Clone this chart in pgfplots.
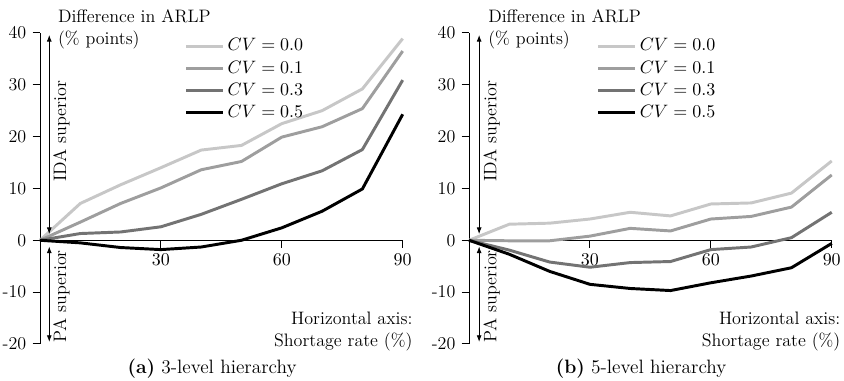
\documentclass[border=0pt]{standalone}
\usepackage{pgfplots}
\usepackage{pgfplotstable}
\pgfplotsset{compat=1.18}
\usetikzlibrary{arrows.meta}

\definecolor{cA}{gray}{0.78}
\definecolor{cB}{gray}{0.62}
\definecolor{cC}{gray}{0.45}
\definecolor{cD}{gray}{0}

\pgfplotstableread{
x  a0   a1   a3   a5
0  0    0    0    0
10 7.1  3.5  1.3  -0.5
20 10.7 7.1  1.6  -1.4
30 14.0 10.1 2.6  -1.8
40 17.4 13.6 5.0  -1.3
50 18.3 15.2 7.9  0.0
60 22.5 19.9 10.9 2.4
70 25.0 21.9 13.4 5.6
80 29.2 25.4 17.5 9.9
90 38.9 36.5 30.9 24.3
}\tabA

\pgfplotstableread{
x  b0   b1   b3   b5
0  0    0    0    0
10 3.1  -0.1 -1.9 -2.7
20 3.3  -0.1 -4.2 -6.0
30 4.1  0.8  -5.2 -8.5
40 5.4  2.3  -4.3 -9.3
50 4.7  1.8  -4.1 -9.7
60 7.0  4.1  -1.8 -8.2
70 7.2  4.6  -1.3 -6.9
80 9.1  6.4  0.5  -5.3
90 15.3 12.6 5.4  -0.6
}\tabB

\pgfplotsset{mystyle/.style={
  x=2.458pt, y=3.162pt,
  xmin=0, xmax=90, ymin=-20, ymax=40,
  axis x line=middle, axis y line=left,
  axis line style={-, line width=0.6pt},
  xtick={30,60,90},
  ytick={-20,-10,0,10,20,30,40},
  yticklabels={-20,-10,0,10,20,30,40},
  tick align=outside, major tick length=4.5pt,
  tick style={black, line width=0.6pt},
  clip=false,
  legend cell align=left,
  legend image code/.code={\draw[##1] (0pt,0pt) -- (22.5pt,0pt);},
  every axis plot/.append style={line width=1.8pt, line join=round},
}}

\begin{document}
\fontsize{11}{13.5}\selectfont
\begin{tikzpicture}[font=\fontsize{11}{13.5}\selectfont]
\useasboundingbox (-24.4pt,-22pt) rectangle (490.4pt,209.8pt);

\begin{axis}[mystyle, at={(0pt,0pt)}, anchor=south west,
  legend style={draw=none, fill=none, at={(axis cs:35.8,39.6)}, anchor=north west, inner sep=0pt, row sep=0.4pt}]
\addplot[cA] table[x=x,y=a0]{\tabA};
\addlegendentry{$CV = 0.0$}
\addplot[cB] table[x=x,y=a1]{\tabA};
\addlegendentry{$CV = 0.1$}
\addplot[cC] table[x=x,y=a3]{\tabA};
\addlegendentry{$CV = 0.3$}
\addplot[cD] table[x=x,y=a5]{\tabA};
\addlegendentry{$CV = 0.5$}
\draw[{Latex[length=4pt,width=3pt]}-{Latex[length=4pt,width=3pt]}, line width=0.5pt] (axis cs:2.3,1.2) -- (axis cs:2.3,39.6);
\draw[{Latex[length=4pt,width=3pt]}-{Latex[length=4pt,width=3pt]}, line width=0.5pt] (axis cs:2.3,-1.2) -- (axis cs:2.3,-19.6);
\node[rotate=90, inner sep=0pt] at (axis cs:5.3,21) {IDA superior};
\node[rotate=90, inner sep=0pt] at (axis cs:5.3,-10.8) {PA superior};
\node[anchor=north west, align=left, inner sep=0pt] at (axis cs:4.4,44.6) {Difference in ARLP\\(\% points)};
\node[anchor=south east, align=right, inner sep=0pt] at (axis cs:92.5,-21.4) {Horizontal axis:\\Shortage rate (\%)};
\node[anchor=base, font=\fontsize{11.8}{14}\selectfont] at (axis cs:42.7,-25.7) {\textbf{(a)} 3-level hierarchy};
\end{axis}

\begin{axis}[mystyle, at={(261.7pt,0pt)}, anchor=south west,
  legend style={draw=none, fill=none, at={(axis cs:31.6,39.6)}, anchor=north west, inner sep=0pt, row sep=0.4pt}]
\addplot[cA] table[x=x,y=b0]{\tabB};
\addlegendentry{$CV = 0.0$}
\addplot[cB] table[x=x,y=b1]{\tabB};
\addlegendentry{$CV = 0.1$}
\addplot[cC] table[x=x,y=b3]{\tabB};
\addlegendentry{$CV = 0.3$}
\addplot[cD] table[x=x,y=b5]{\tabB};
\addlegendentry{$CV = 0.5$}
\draw[{Latex[length=4pt,width=3pt]}-{Latex[length=4pt,width=3pt]}, line width=0.5pt] (axis cs:2.5,1.2) -- (axis cs:2.5,39.6);
\draw[{Latex[length=4pt,width=3pt]}-{Latex[length=4pt,width=3pt]}, line width=0.5pt] (axis cs:2.5,-1.2) -- (axis cs:2.5,-19.6);
\node[rotate=90, inner sep=0pt] at (axis cs:5.6,21) {IDA superior};
\node[rotate=90, inner sep=0pt] at (axis cs:5.6,-10.8) {PA superior};
\node[anchor=north west, align=left, inner sep=0pt] at (axis cs:4.7,44.6) {Difference in ARLP\\(\% points)};
\node[anchor=south east, align=right, inner sep=0pt] at (axis cs:92.2,-21.4) {Horizontal axis:\\Shortage rate (\%)};
\node[anchor=base, font=\fontsize{11.8}{14}\selectfont] at (axis cs:42.7,-25.7) {\textbf{(b)} 5-level hierarchy};
\end{axis}
\end{tikzpicture}
\end{document}
